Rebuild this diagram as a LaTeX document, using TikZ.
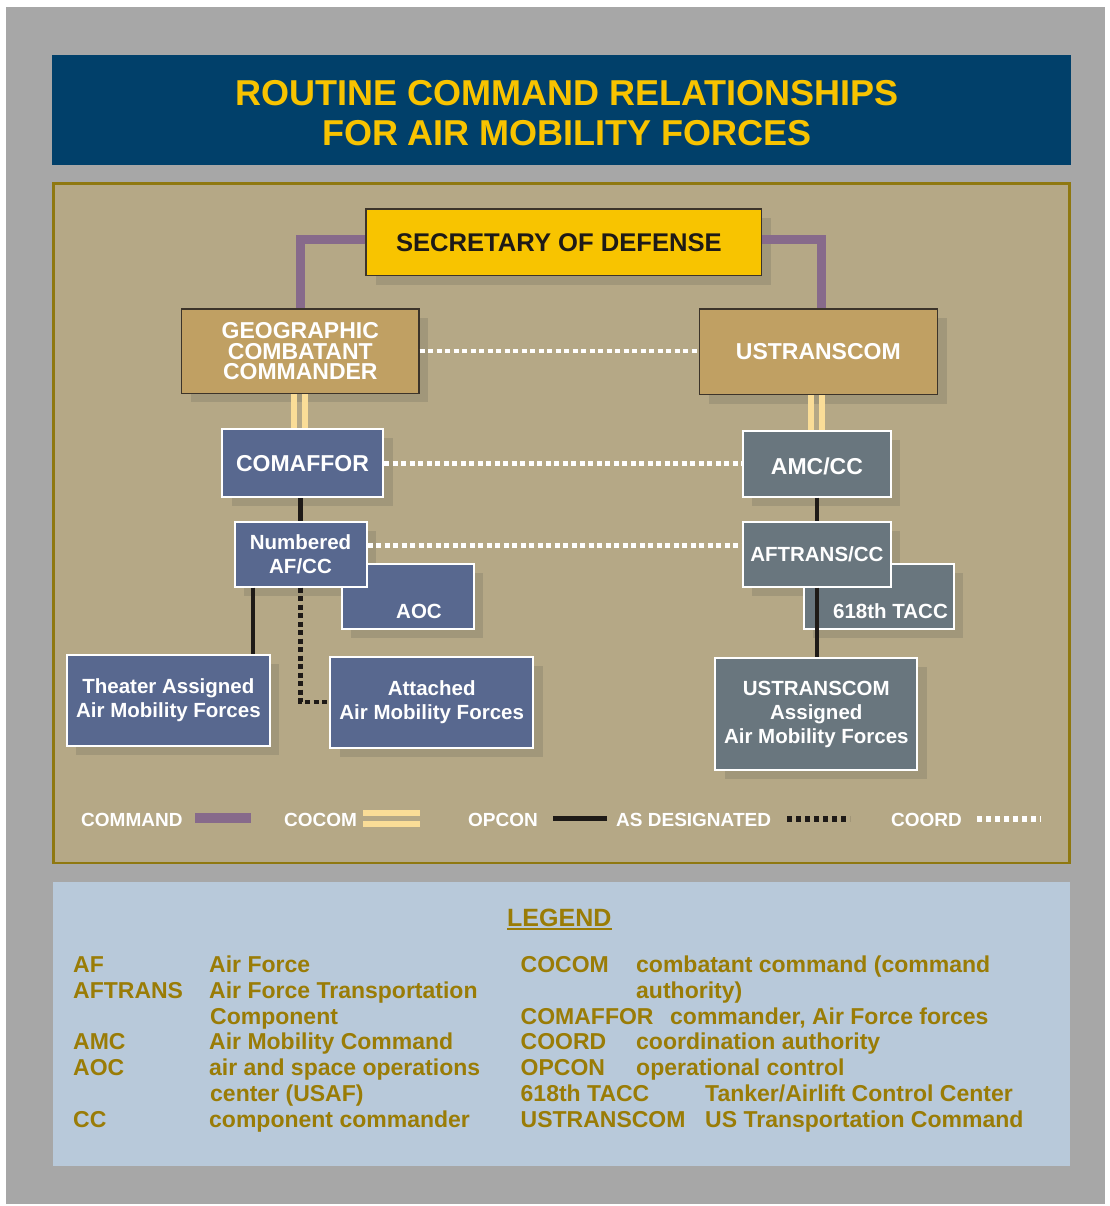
\documentclass[tikz,border=0pt]{standalone}
\usepackage{fontspec}
\setmainfont{Liberation Sans}
\usetikzlibrary{shadows}
\definecolor{outergray}{HTML}{A7A7A7}
\definecolor{titleblue}{HTML}{01406A}
\definecolor{titleyellow}{HTML}{F8C300}
\definecolor{cTan}{HTML}{B5A886}
\definecolor{cOlive}{HTML}{8F7810}
\definecolor{shadowc}{HTML}{A1977A}
\definecolor{secyellow}{HTML}{F8C400}
\definecolor{cGold}{HTML}{C0A063}
\definecolor{purp}{HTML}{876A8B}
\definecolor{cocomc}{HTML}{FADD97}
\definecolor{blueboxc}{HTML}{58688F}
\definecolor{grayboxc}{HTML}{69767E}
\definecolor{legblue}{HTML}{B8C9DA}
\definecolor{legtext}{HTML}{9A7C06}
\definecolor{opconc}{HTML}{1E1A17}
\definecolor{darkedge}{HTML}{3C342A}
\begin{document}
\begin{tikzpicture}[x=1pt,y=-1pt,
  sh/.style={general shadow={shadow xshift=9.5pt, shadow yshift=-9pt, fill=shadowc}},
  boxbase/.style={rectangle, inner sep=0pt, align=center},
  fA/.style={font=\fontsize{23}{26}\selectfont\bfseries},
  fB/.style={font=\fontsize{20.5}{23.8}\selectfont\bfseries},
  goldbox/.style={boxbase, sh, fill=cGold, draw=darkedge, line width=1.3pt, text=white, font=\fontsize{23}{20.8}\selectfont\bfseries},
  secbox/.style={boxbase, sh, fill=secyellow, draw=darkedge, line width=1.3pt, text=opconc, font=\fontsize{25.6}{28}\selectfont\bfseries},
  blueplain/.style={boxbase, fill=blueboxc, draw=white, line width=2pt, text=white},
  bluebox/.style={blueplain, sh},
  grayplain/.style={boxbase, fill=grayboxc, draw=white, line width=2pt, text=white},
  graybox/.style={grayplain, sh},
  boxtext/.style={inner sep=0pt, text=white, fB},
  cmd/.style={draw=purp, line width=9pt, line join=miter},
  cocom/.style={draw=cocomc, line width=6pt},
  opconl/.style={draw=opconc, line width=4.5pt},
  asdes/.style={draw=opconc, line width=4.5pt, dash pattern=on 5pt off 3.5pt},
  coord/.style={draw=white, line width=4.5pt, dash pattern=on 5pt off 3.5pt},
  legt/.style={text=white, font=\fontsize{19}{20}\selectfont\bfseries, anchor=base west, inner sep=0pt},
  lg/.style={text=legtext, font=\fontsize{23}{26}\selectfont\bfseries, anchor=base west, inner sep=0pt},
  titletxt/.style={text=titleyellow, font=\fontsize{36}{40}\selectfont\bfseries, align=center, inner sep=0pt}
]
\useasboundingbox (0,0) rectangle (1109,1206);
\fill[white] (0,0) rectangle (1109,1206);
\fill[outergray] (6,7) rectangle (1105,1204);
% title
\fill[titleblue] (52,55) rectangle (1071,165);
\node[titletxt] (title) at (567,113.6) {ROUTINE COMMAND RELATIONSHIPS\\FOR AIR MOBILITY FORCES};
% panels
\filldraw[fill=cTan, draw=cOlive, line width=2.7pt] (53.3,183.3) rectangle (1069.7,863);
\fill[legblue] (53,882) rectangle (1070,1166);

% boxes
\node[secbox, minimum width=395.7pt, minimum height=66.7pt] (sec) at (563.9,242.4) {SECRETARY OF DEFENSE\kern10pt};
\node[goldbox, minimum width=237.3pt, minimum height=84.3pt] (gcc) at (300.3,351.2) {GEOGRAPHIC\\COMBATANT\\COMMANDER};
\node[goldbox, minimum width=238pt, minimum height=85.7pt] (ust) at (818.3,351.9) {USTRANSCOM};
\node[bluebox, fA, minimum width=161pt, minimum height=68pt] (caf) at (302.5,463.3) {COMAFFOR};
\node[graybox, fA, minimum width=148pt, minimum height=66pt, text depth=0pt, text height=22.5pt] (amc) at (816.9,463.7) {AMC/CC};

% NAF + AOC
\fill[shadowc] (244,530.7) rectangle (376,595.7);
\node[bluebox, minimum width=132pt, minimum height=65pt] (aoc) at (407.9,596.9) {};
\node[boxtext] (aoct) at (419,611) {AOC};
\node[blueplain, fB, minimum width=132pt, minimum height=65pt] (naf) at (300.5,554.2) {Numbered\\AF/CC};

% AFTRANS + TACC
\fill[shadowc] (752.4,530.7) rectangle (900.4,595.7);
\node[graybox, minimum width=150pt, minimum height=65pt] (tacc) at (878.9,596.9) {};
\node[boxtext] (tacct) at (890.5,611) {618th TACC};
\node[grayplain, fB, minimum width=148pt, minimum height=65pt] (aft) at (816.9,554.2) {AFTRANS/CC};

% bottom boxes
\node[bluebox, fB, minimum width=203pt, minimum height=91pt] (th) at (168.4,700) {Theater Assigned\\Air Mobility Forces};
\node[bluebox, fB, minimum width=203pt, minimum height=91pt] (att) at (431.7,702.2) {Attached\\Air Mobility Forces};
\node[graybox, fB, minimum width=202pt, minimum height=112pt] (usta) at (816.3,714.2) {USTRANSCOM\\Assigned\\Air Mobility Forces};

% connectors
\draw[cmd] ([yshift=2.5pt]sec.west) -| (gcc.north);
\draw[cmd] ([yshift=2.5pt]sec.east) -| ([xshift=2.7pt]ust.north);
\draw[cocom] ([xshift=-6.3pt]gcc.south) -- ([xshift=-6.3pt]gcc.south |- caf.north);
\draw[cocom] ([xshift=4.7pt]gcc.south) -- ([xshift=4.7pt]gcc.south |- caf.north);
\draw[cocom] ([xshift=-7.3pt]ust.south) -- ([xshift=-7.3pt]ust.south |- amc.north);
\draw[cocom] ([xshift=3.7pt]ust.south) -- ([xshift=3.7pt]ust.south |- amc.north);
\draw[coord] (gcc.east) -- (gcc.east -| ust.west);
\draw[coord] (caf.east) -- (caf.east -| amc.west);
\draw[coord] ([yshift=8.5pt]naf.east) -- ([yshift=8.5pt]naf.east -| aft.west);
\draw[opconl] (naf.north |- caf.south) -- (naf.north);
\draw[opconl] (amc.south) -- (aft.north);
\draw[opconl] (aft.south) -- (aft.south |- usta.north);
\draw[opconl] ([xshift=-47.5pt]naf.south) -- ([xshift=-47.5pt]naf.south |- th.north);
\draw[asdes] (naf.south) |- (att.west);

% line legend
\node[legt] (lcmd) at (81,826) {COMMAND};
\fill[purp] (195,812.7) rectangle (251,823);
\node[legt] (lcoc) at (284,826) {COCOM};
\fill[cocomc] (363,810) rectangle (420,815.7);
\fill[cocomc] (363,821) rectangle (420,826.7);
\node[legt] (lop) at (468,826) {OPCON};
\fill[opconc] (553,816.3) rectangle (607,820.7);
\node[legt] (las) at (616,826) {AS DESIGNATED};
\draw[opconc, line width=6pt, dash pattern=on 5pt off 4pt] (787,819) -- (850,819);
\node[legt] (lco) at (891,826) {COORD};
\draw[white, line width=6pt, dash pattern=on 5pt off 4pt] (977,819) -- (1041,819);

% legend
\node[lg, font=\fontsize{25}{28}\selectfont\bfseries] (leg) at (507,926) {LEGEND};
\draw[legtext, line width=2pt] ([yshift=-3pt]leg.base west) -- ([yshift=-3pt]leg.base east);

\node[lg] (a1) at (73,972.5) {AF};
\node[lg] (d1) at (209,972.5) {Air Force};
\node[lg] (a2) at (73,998.3) {AFTRANS};
\node[lg] (d2) at (209,998.3) {Air Force Transportation};
\node[lg] (d2b) at (210,1024) {Component};
\node[lg] (a3) at (73,1049.8) {AMC};
\node[lg] (d3) at (209,1049.8) {Air Mobility Command};
\node[lg] (a4) at (73,1075.6) {AOC};
\node[lg] (d4) at (209,1075.6) {air and space operations};
\node[lg] (d4b) at (210,1101.4) {center (USAF)};
\node[lg] (a5) at (73,1127.2) {CC};
\node[lg] (d5) at (209,1127.2) {component commander};

\node[lg] (b1) at (520.5,972.5) {COCOM};
\node[lg] (e1) at (636,972.5) {combatant command (command};
\node[lg] (e1b) at (636,998.3) {authority)};
\node[lg] (b2) at (520.5,1024) {COMAFFOR};
\node[lg] (e2) at (670,1024) {commander, Air Force forces};
\node[lg] (b3) at (520.5,1049.8) {COORD};
\node[lg] (e3) at (636,1049.8) {coordination authority};
\node[lg] (b4) at (520.5,1075.6) {OPCON};
\node[lg] (e4) at (636,1075.6) {operational control};
\node[lg] (b5) at (520.5,1101.4) {618th TACC};
\node[lg] (e5) at (705,1101.4) {Tanker/Airlift Control Center};
\node[lg] (b6) at (520.5,1127.2) {USTRANSCOM};
\node[lg] (e6) at (705,1127.2) {US Transportation Command};
\end{tikzpicture}
\end{document}
